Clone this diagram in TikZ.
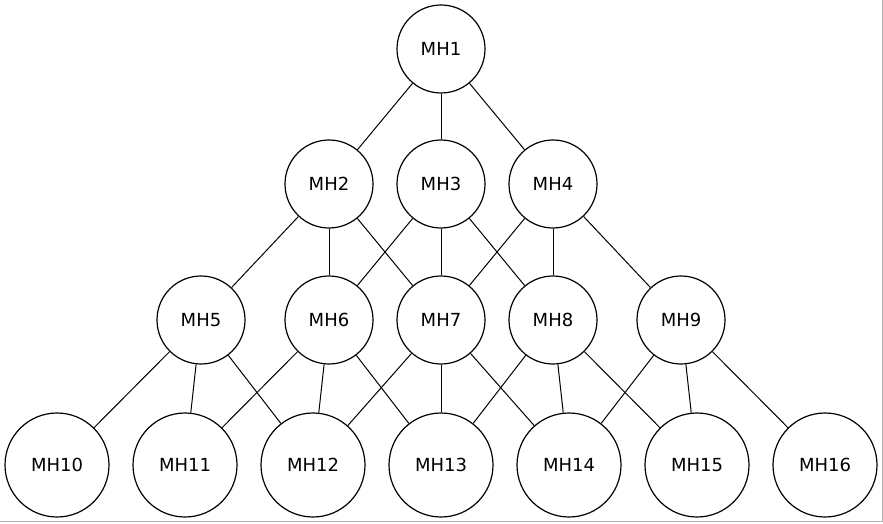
\documentclass[tikz,border=0pt]{standalone}
\usepackage{fontspec}
\setmainfont{DejaVu Sans}
\begin{document}
\begin{tikzpicture}[x=1pt,y=1pt,
    mh/.style={draw,circle,line width=1.2pt,minimum size=88pt,inner sep=0pt,font=\fontsize{18}{20}\selectfont},
    mhbig/.style={mh,minimum size=104pt},
    link/.style={line width=1pt}]
  \useasboundingbox (0,0) rectangle (883,523);
  \draw[gray!60] (882.5,523) -- (882.5,1.5) -- (0,1.5);
  % top
  \node[mh] (mh1) at (441,474) {MH1};
  % second row
  \node[mh] (mh2) at (329,339) {MH2};
  \node[mh] (mh3) at (441,339) {MH3};
  \node[mh] (mh4) at (553,339) {MH4};
  % third row
  \node[mh] (mh5) at (201,203) {MH5};
  \node[mh] (mh6) at (329,203) {MH6};
  \node[mh] (mh7) at (441,203) {MH7};
  \node[mh] (mh8) at (553,203) {MH8};
  \node[mh] (mh9) at (681,203) {MH9};
  % bottom row
  \foreach \i/\x in {10/57,11/185,12/313,13/441,14/569,15/697,16/825}
    \node[mhbig] (mh\i) at (\x,58) {MH\i};
  % links
  \foreach \a/\b in {1/2,1/3,1/4,2/5,2/6,2/7,3/6,3/7,3/8,4/7,4/8,4/9,
      5/10,5/11,5/12,6/11,6/12,6/13,7/12,7/13,7/14,8/13,8/14,8/15,9/14,9/15,9/16}
    \draw[link] (mh\a) -- (mh\b);
\end{tikzpicture}
\end{document}
